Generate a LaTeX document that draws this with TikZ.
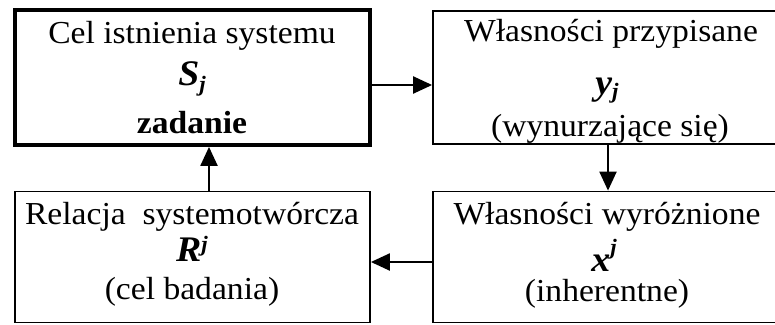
\documentclass[tikz,border=0pt]{standalone}
\usepackage{fontspec}
\setmainfont{Liberation Serif}[FakeStretch=1.05]
\usetikzlibrary{arrows.meta}

\tikzset{
  frame/.style={draw=black, line width=1.8pt, fill=white, inner sep=0pt},
  mainframe/.style={draw=black, line width=3.8pt, fill=white, inner sep=0pt},
  txt/.style={anchor=base, inner sep=0pt, font=\fontsize{32}{36}\selectfont},
  sym/.style={anchor=base, inner sep=0pt, font=\fontsize{36}{38}\selectfont\bfseries\itshape},
  arr/.style={line width=2.2pt, -{Triangle[length=19pt,width=17pt]}}
}
\newcommand{\smallj}{{\fontsize{22}{24}\selectfont\bfseries\itshape j}}

\begin{document}
\begin{tikzpicture}[x=1pt, y=1pt]
  \useasboundingbox (0,0) rectangle (775,-324);
  \fill[white] (0,0) rectangle (775,-324);

  % the four blocks
  \node[mainframe, minimum width=355pt, minimum height=135pt] (cel) at (192.5,-77.5) {};
  \node[frame, minimum width=357pt, minimum height=133pt] (przyp) at (611.5,-77.5) {};
  \node[frame, minimum width=355pt, minimum height=131pt] (rel) at (192.5,-257) {};
  \node[frame, minimum width=357pt, minimum height=131pt] (wyr) at (611.5,-257) {};

  % texts of the top left block
  \node[txt] (c1) at (192,-43) {Cel istnienia systemu};
  \node[sym] (c2) at (192,-85) {S\raisebox{-6pt}{\smallj}};
  \node[txt, font=\fontsize{32}{36}\selectfont\bfseries] (c3) at (192,-133) {zadanie};

  % texts of the top right block
  \node[txt] (p1) at (611,-41) {Własności przypisane};
  \node[sym] (p2) at (607,-94) {y\raisebox{-4pt}{\smallj}};
  \node[txt] (p3) at (610,-136) {(wynurzające się)};

  % texts of the bottom left block
  \node[txt] (r1) at (192,-224) {Relacja\ \ systemotwórcza};
  \node[sym] (r2) at (192,-261) {R\raisebox{10pt}{\smallj}};
  \node[txt] (r3) at (192,-299) {(cel badania)};

  % texts of the bottom right block
  \node[txt] (w1) at (607,-224) {Własności wyróżnione};
  \node[sym] (w2) at (604,-271) {x\raisebox{17pt}{\smallj}};
  \node[txt] (w3) at (607,-301) {(inherentne)};

  % connectors
  \draw[arr] (cel.east |- 0,-85) -- (przyp.west |- 0,-85);
  \draw[arr] (przyp.south -| 608,0) -- (wyr.north -| 608,0);
  \draw[arr] (wyr.west |- 0,-262) -- (rel.east |- 0,-262);
  \draw[arr] (rel.north -| 209,0) -- (cel.south -| 209,0);
\end{tikzpicture}
\end{document}
